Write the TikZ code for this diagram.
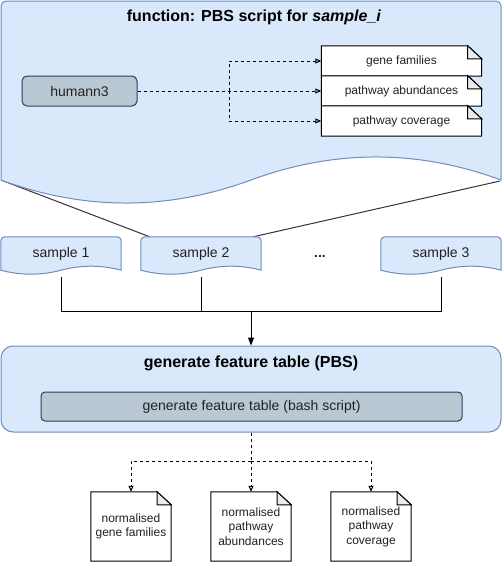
\documentclass[tikz,border=0pt]{standalone}
\usepackage{fontspec}
\setmainfont{Liberation Sans}
\usetikzlibrary{arrows.meta,calc}
\pgfdeclarelayer{bg}
\pgfsetlayers{bg,main}
\definecolor{bfill}{HTML}{DAE8FC}
\definecolor{bdraw}{HTML}{6C8EBF}
\definecolor{gfill}{HTML}{BAC8D3}
\definecolor{gdraw}{HTML}{23445D}
\definecolor{txt}{HTML}{222222}
\newcommand\foldnote[1]{%
  \path[notebody] (#1.north west) -- ($(#1.north east)+(-14,0)$) -- ($(#1.north east)+(0,13)$) -- (#1.south east) -- (#1.south west) -- cycle;
  \path[notefold] ($(#1.north east)+(-14,0)$) -- ($(#1.north east)+(-14,13)$) -- ($(#1.north east)+(0,13)$) -- cycle;}
\newcommand\wavybox[1]{%
  \path[blueshape] (#1.south west) -- ($(#1.north west)+(0,4)$) arc[start angle=180,end angle=270,radius=4]
    -- ($(#1.north east)+(-4,0)$) arc[start angle=270,end angle=360,radius=4]
    -- (#1.south east) .. controls ($(#1.south east)+(-20,-5.33)$) and ($(#1.south)+(20,-5.33)$) .. (#1.south)
    .. controls ($(#1.south)+(-20,5.33)$) and ($(#1.south west)+(20,5.33)$) .. (#1.south west) -- cycle;}
\begin{document}
\begin{tikzpicture}[x=1pt,y=-1pt,
  every node/.style={font=\fontsize{12}{14.5}\selectfont, text=txt},
  box/.style={inner sep=0pt, align=center},
  big/.style={font=\fontsize{14}{16.8}\selectfont},
  ttlfont/.style={font=\bfseries\fontsize{16}{19}\selectfont, text=black},
  blueshape/.style={fill=bfill, draw=bdraw, line width=1pt},
  greybox/.style={fill=gfill, draw=gdraw, line width=1pt, rounded corners=4pt, inner sep=0pt},
  notebody/.style={fill=white, draw=black, line width=1pt},
  notefold/.style={fill=black!8, draw=black, line width=1pt},
  conn/.style={draw=black, line width=1pt},
  dconn/.style={draw=black, line width=1pt, dash pattern=on 3pt off 3pt},
  openarrow/.style={-{Triangle[open,length=6pt,width=5pt]}},
  zoomline/.style={draw=black!80, line width=1pt}]
\useasboundingbox (0,0) rectangle (502,562);

% ---- nodes of the top function box
\node[box, ttlfont] (ttl) at (254,17) {function: PBS script for \textit{sample\_i}};
\node[greybox, big, minimum width=115pt, minimum height=30pt, rounded corners=5pt] (hum) at (79.5,91) {humann3};
\node[box, minimum width=160pt, minimum height=30pt] (gf) at (401.5,61) {gene families};
\node[box, minimum width=160pt, minimum height=30pt] (pa) at (401.5,91) {pathway abundances};
\node[box, minimum width=160pt, minimum height=30pt] (pc) at (401.5,121) {pathway coverage};
\coordinate (m) at (229,91);
\coordinate (tl) at (1,180);
\coordinate (tr) at (500,181);

% ---- samples
\node[box, big, minimum width=120pt, minimum height=33pt] (s1) at (61,253.5) {sample 1};
\node[box, big, minimum width=120pt, minimum height=33pt] (s2) at (201,253.5) {sample 2};
\node[box, big, minimum width=120pt, minimum height=33pt] (s3) at (441,253.5) {sample 3};
\node[box, font=\bfseries\fontsize{14}{16.8}\selectfont, anchor=base] (dots) at (320,257) {...};

\begin{pgfonlayer}{bg}
  \draw[zoomline] (tl) -- ($(s2.north west)+(9,0)$);
  \draw[zoomline] (tr) -- ($(s2.north east)+(-8,0)$);
  \path[blueshape] (1,180) -- (1,6) arc[start angle=180,end angle=270,radius=5]
    -- (496,1) arc[start angle=270,end angle=360,radius=5]
    -- (501,180) .. controls (417.7,149.3) and (334.3,149.3) .. (251,180)
    .. controls (167.7,210.7) and (84.3,210.7) .. (1,180) -- cycle;
  \foldnote{gf}
  \foldnote{pa}
  \foldnote{pc}
  \wavybox{s1}
  \wavybox{s2}
  \wavybox{s3}
\end{pgfonlayer}

\draw[dconn, openarrow] (hum.east) -- (pa.west);
\draw[dconn, openarrow] (m) |- (gf.west);
\draw[dconn, openarrow] (m) |- (pc.west);

% ---- feature table box
\node[blueshape, rounded corners=12pt, minimum width=500pt, minimum height=86pt] (gft) at (251,389) {};
\node[box, ttlfont] (gftt) at (251,363) {generate feature table (PBS)};
\node[greybox, big, minimum width=421pt, minimum height=29pt] (bash) at (251.5,406.5) {generate feature table (bash script)};

\coordinate (j) at (251,311);
\draw[conn] ($(s1.south)+(0,7)$) |- (j);
\draw[conn] ($(s2.south)+(0,7)$) |- (j);
\draw[conn] ($(s3.south)+(0,7)$) |- (j);
\draw[conn, -{Triangle[length=8pt,width=6pt]}] (j) -- (gft.north);

% ---- output notes
\node[box, minimum width=80pt, minimum height=69pt] (n1) at (131,526.5) {normalised\\gene families};
\node[box, minimum width=80pt, minimum height=69pt] (n2) at (251,526.5) {normalised\\pathway\\abundances};
\node[box, minimum width=80pt, minimum height=69pt] (n3) at (371,526.5) {normalised\\pathway\\coverage};
\begin{pgfonlayer}{bg}
  \foldnote{n1}
  \foldnote{n2}
  \foldnote{n3}
\end{pgfonlayer}

\coordinate (k) at (251,461);
\draw[dconn] (gft.south) -- (k);
\draw[dconn, openarrow] (k) -| (n1.north);
\draw[dconn, openarrow] (k) -- (n2.north);
\draw[dconn, openarrow] (k) -| (n3.north);
\end{tikzpicture}
\end{document}
